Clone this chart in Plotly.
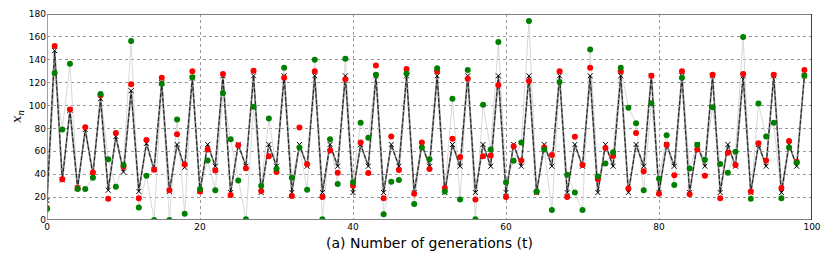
import plotly.graph_objects as go

t = list(range(100))

# deterministic trajectory (black line with x markers)
x_det = [17, 148, 35, 96, 28, 79, 40, 106, 26, 73,
         42, 113, 25, 67, 44, 120, 25, 66, 46, 124,
         25, 66, 47, 126, 24, 66, 47, 126, 24, 66,
         47, 126, 24, 66, 47, 126, 24, 66, 47, 126,
         24, 66, 47, 126, 24, 66, 47, 126, 24, 66,
         47, 126, 24, 66, 47, 126, 24, 66, 47, 126,
         24, 66, 47, 126, 24, 66, 47, 126, 24, 66,
         47, 126, 24, 66, 47, 126, 24, 66, 47, 126,
         24, 66, 47, 126, 24, 66, 47, 126, 24, 66,
         47, 126, 24, 66, 47, 126, 24, 66, 47, 126]

# red stochastic realisation
x_red = [10.5, 152, 35.5, 96.5, 28, 81, 41.6, 109, 18.6, 76,
         46.5, 118.6, 19, 70, 44, 124.4, 26, 75, 48.5, 130,
         25, 61.6, 43.3, 127.6, 21.8, 65.4, 45.3, 130.5, 25.3, 55.8,
         41.9, 124.4, 21, 80.8, 48.8, 130, 20, 60.8, 41.3, 123,
         30, 67.7, 41, 135, 19, 73, 43.6, 132, 23, 67.7,
         44.5, 130, 28, 71, 55, 123.5, 18, 55.8, 56.4, 118,
         20, 64.5, 52, 121.5, 24.7, 63.4, 56.7, 130, 20, 72.7,
         48, 133, 35.5, 63, 56, 130, 27.6, 76, 42.7, 126,
         23, 65.7, 39, 130, 22.4, 61.6, 38.7, 127, 19, 58.7,
         48, 127.6, 25, 67, 52, 127, 28, 69, 51, 131]

# green stochastic realisation
x_green = [9.6, 128.5, 79, 136.6, 27, 27, 37, 110, 53, 29,
           48, 156.4, 11, 38.7, 0, 119, 0, 87.8, 5.5, 124.7,
           27, 52, 26, 111, 70.6, 34.6, 0.6, 99, 30, 88.7,
           44.8, 133, 37, 63.4, 26.5, 140, 0.6, 70.6, 31.4, 141,
           33, 85, 71.8, 127, 5, 33.4, 35, 128, 14, 63.4,
           53, 132.6, 25, 106, 18, 131, 0.6, 100.6, 61.6, 155.5,
           33, 51.7, 67.7, 173.8, 25, 61.6, 8.7, 120.6, 39.5, 24,
           8.7, 149, 38, 49.4, 59.3, 133, 98, 84.6, 26, 102,
           36, 74, 30.5, 124.4, 45, 65.7, 52.6, 98.5, 49, 41.3,
           59.6, 160, 18.6, 101.7, 73, 85, 19, 63.4, 50, 126]

x_ticks = [0, 20, 40, 60, 80, 100]
y_ticks = [0, 20, 40, 60, 80, 100, 120, 140, 160, 180]

fig = go.Figure()

fig.add_trace(go.Scatter(x=t, y=x_green, mode="lines",
                         line=dict(color="#d9d9d9", width=1), hoverinfo="skip"))
fig.add_trace(go.Scatter(x=t, y=x_det, mode="lines",
                         line=dict(color="#8a8a8a", width=1.8), hoverinfo="skip"))
fig.add_trace(go.Scatter(x=t, y=x_det, mode="lines+markers",
                         line=dict(color="black", width=0.8, dash="4px,2px"),
                         marker=dict(symbol="x-thin", size=5,
                                     line=dict(color="black", width=1))))
fig.add_trace(go.Scatter(x=t, y=x_red, mode="markers",
                         marker=dict(color="#ff0000", size=6,
                                     line=dict(color="#ff0000", width=0))))
fig.add_trace(go.Scatter(x=t, y=x_green, mode="markers",
                         marker=dict(color="#008000", size=6,
                                     line=dict(color="#008000", width=0))))

grid = dict(showgrid=True, gridcolor="#999999", griddash="dot", gridwidth=1)

fig.update_xaxes(range=[0, 100], tickvals=x_ticks, ticks="", zeroline=False,
                 showline=False, automargin=False,
                 tickfont=dict(family="DejaVu Sans", size=9, color="black"),
                 **grid)
fig.update_yaxes(range=[0, 180], tickvals=y_ticks, ticks="", zeroline=False,
                 showline=False, automargin=False,
                 tickfont=dict(family="DejaVu Sans", size=9, color="black"),
                 **grid)

fig.add_annotation(text="(a) Number of generations (t)", xref="paper", yref="paper",
                   x=0.5, y=0, yshift=-23, xanchor="center", yanchor="middle",
                   showarrow=False, font=dict(family="DejaVu Sans", size=14, color="black"))
fig.add_annotation(text="<i>x</i><sub><i>n</i></sub>", xref="paper", yref="paper",
                   x=0, y=0.5, xshift=-30, xanchor="center", yanchor="middle", textangle=-90,
                   showarrow=False, font=dict(family="DejaVu Serif", size=13, color="black"))

# axes frame
fig.add_shape(type="line", xref="x", yref="y", x0=0, x1=100, y0=180, y1=180,
              line=dict(color="#808080", width=2))
fig.add_shape(type="line", xref="x", yref="y", x0=0, x1=100, y0=0, y1=0,
              line=dict(color="#808080", width=2))
fig.add_shape(type="line", xref="x", yref="y", x0=0, x1=0, y0=0, y1=180,
              line=dict(color="#808080", width=1.5))
fig.add_shape(type="line", xref="x", yref="y", x0=100, x1=100, y0=0, y1=180,
              line=dict(color="black", width=1.5))

fig.update_layout(width=822, height=252, showlegend=False,
                  margin=dict(l=39, r=18, t=6, b=40),
                  plot_bgcolor="white", paper_bgcolor="white")

fig.write_html("out.html")
